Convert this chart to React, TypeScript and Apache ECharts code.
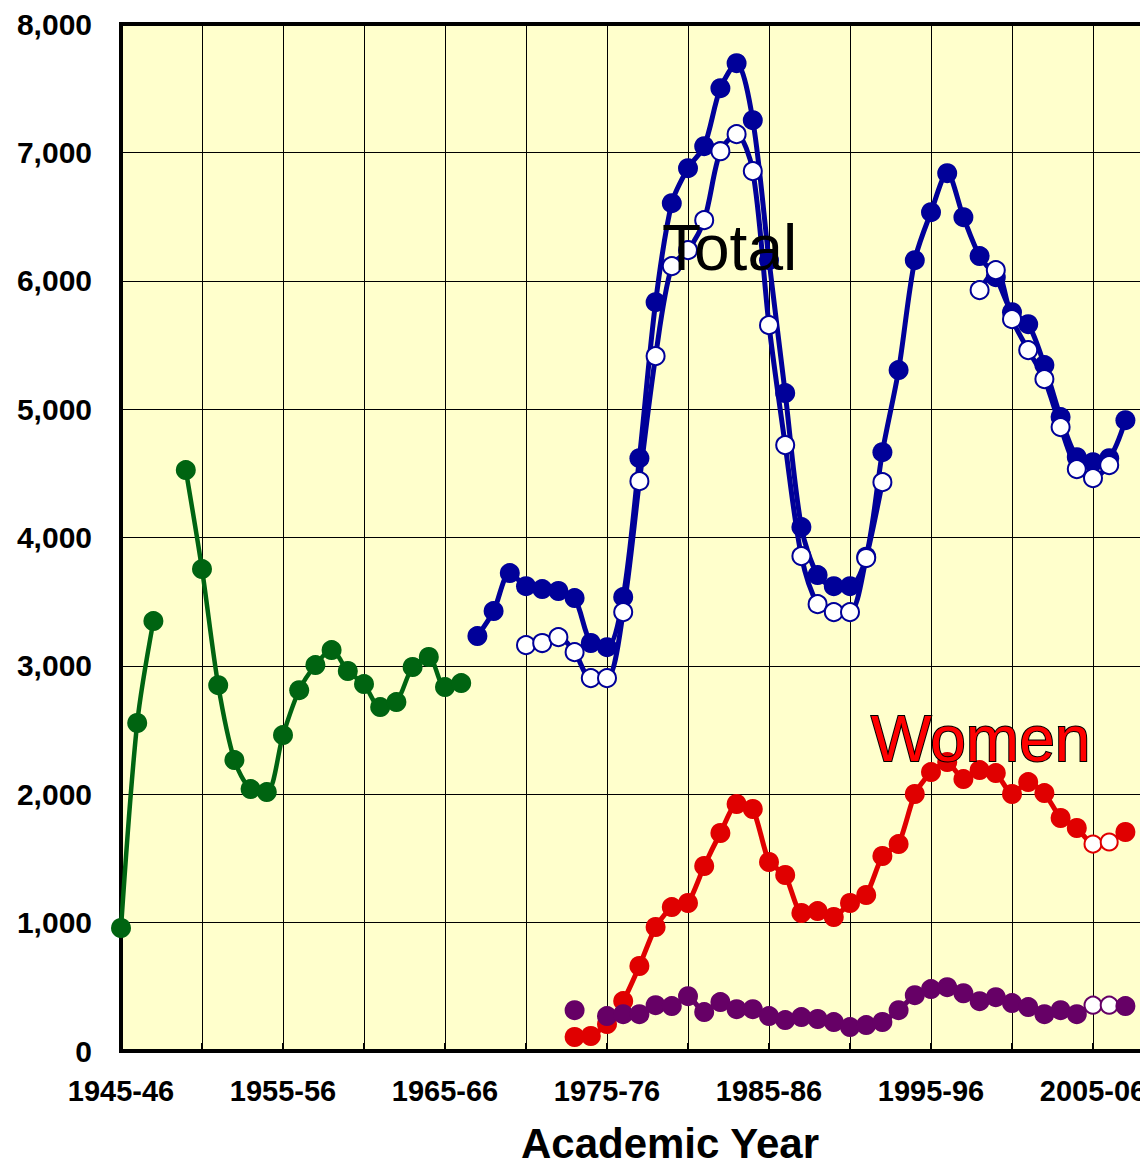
import React, { useEffect, useRef } from "react";
import * as echarts from "echarts";

// x index 0 = 1945-46, 1 = 1946-47, ...
const xTickLabels = ["1945-46", "1955-56", "1965-66", "1975-76", "1985-86", "1995-96", "2005-06"];

const greenStart = 0;
const greenValues = [958, 2555, 3349, null, 4525, 3754, 2850, 2266, 2040, 2017, 2461, 2811, 3006, 3123, 2960, 2858, 2679, 2718, 2991, 3069, 2835, 2866];

const totalStart = 22;
const totalValues = [
  3232, 3427, 3723, 3621, 3598, 3583, 3528, 3178, 3146, 3536,
  4618, 5833, 6604, 6877, 7048, 7500, 7695, 7251, 6160, 5125,
  4081, 3707, 3621, 3621, 3850, 4665, 5304, 6160, 6534, 6838,
  6495, 6192, 6028, 5755, 5662, 5343, 4938, 4626, 4587, 4618, 4914,
];

const totalAltStart = 25;
const totalAltValues = [
  3162, 3178, 3224, 3107, 2905, 2905, 3419, 4439, 5413, 6114,
  6238, 6472, 7009, 7142, 6854, 5654, 4720, 3855, 3481, 3419,
  3419, 3840, 4431, null, null, null, null, null, 5927, 6083,
  5701, 5460, 5234, 4860, 4533, 4463, 4564,
];

const womenStart = 28;
const womenValues = [
  109, 117, 210, 389, 662, 966, 1121, 1153, 1441, 1698,
  1924, 1885, 1472, 1371, 1075, 1090, 1044, 1153, 1215, 1519,
  1612, 2002, 2173, 2251, 2118, 2188, 2165, 2002, 2095, 2009,
  1815, 1737, 1612, 1628, 1706,
];

const otherStart = 28;
const otherValues = [
  318, null, 272, 287, 287, 357, 350, 427, 303, 381,
  326, 326, 272, 241, 264, 249, 225, 186, 202, 226,
  318, 435, 482, 497, 450, 388, 419, 373, 342, 287,
  318, 287, 357, 357, 350,
];

// indices (years) shown with open markers in the women / other series
const openYearIndices = [60, 61];

const BLUE = "#000099";
const GREEN = "#006411";
const RED = "#E00000";
const PURPLE = "#660066";
const FONT = "'Liberation Sans', Arial, sans-serif";

function toData(start: number, values: (number | null)[], openColor?: string) {
  return values.map((v, i) => {
    const x = start + i;
    const item: any = { value: [x, v === null ? "-" : v] };
    if (openColor && openYearIndices.includes(x)) {
      item.itemStyle = { color: "#ffffff", borderColor: openColor, borderWidth: 2 };
      item.symbolSize = 17;
    }
    return item;
  });
}

export default function App() {
  const ref = useRef<HTMLDivElement>(null);
  useEffect(() => {
    if (!ref.current) return;
    const chart = echarts.init(ref.current, undefined, { renderer: "svg" });
    const lineSeries = (name: string, data: any[], color: string, opts: any = {}) => ({
      name,
      type: "line",
      data,
      smooth: 0.3,
      showAllSymbol: true,
      symbol: "circle",
      symbolSize: 20,
      lineStyle: { color, width: 5 },
      itemStyle: { color },
      connectNulls: false,
      ...opts,
    });
    chart.setOption({
      animation: false,
      grid: {
        left: 121,
        top: 24,
        width: 16.2 * 65,
        height: 1027,
        show: true,
        backgroundColor: "#FFFFCC",
        borderColor: "#000",
        borderWidth: 4,
        containLabel: false,
      },
      xAxis: {
        type: "value",
        min: 0,
        max: 65,
        interval: 5,
        axisLine: { show: false },
        axisTick: { show: true, inside: true, length: 8, lineStyle: { color: "#000", width: 2 } },
        splitLine: { show: true, lineStyle: { color: "#000", width: 1 } },
        axisLabel: {
          margin: 25,
          fontSize: 29,
          fontWeight: "bold",
          color: "#000",
          fontFamily: FONT,
          showMaxLabel: false,
          formatter: (v: number) => (v % 10 === 0 && xTickLabels[v / 10] ? xTickLabels[v / 10] : ""),
        },
      },
      yAxis: {
        type: "value",
        min: 0,
        max: 8000,
        interval: 1000,
        axisLine: { show: false },
        axisTick: { show: false },
        splitLine: { show: true, lineStyle: { color: "#000", width: 1 } },
        axisLabel: {
          margin: 29,
          fontSize: 30,
          fontWeight: "bold",
          color: "#000",
          fontFamily: FONT,
          formatter: (v: number) => v.toLocaleString("en-US"),
        },
      },
      series: [
        lineSeries("Early", toData(greenStart, greenValues), GREEN, { lineStyle: { color: GREEN, width: 4.5 } }),
        lineSeries("Total", toData(totalStart, totalValues), BLUE),
        lineSeries("Total (alt)", toData(totalAltStart, totalAltValues), BLUE, {
          symbolSize: 18,
          itemStyle: { color: "#ffffff", borderColor: BLUE, borderWidth: 2 },
        }),
        lineSeries("Women", toData(womenStart, womenValues, RED), RED, { smooth: 0.2 }),
        lineSeries("Other", toData(otherStart, otherValues, PURPLE), PURPLE, { smooth: 0.2 }),
      ],
      graphic: [
        {
          type: "text",
          left: 662,
          top: 216,
          z: 100,
          style: { text: "Total", fill: "#000", font: `64px ${FONT}` },
        },
        {
          type: "text",
          left: 870,
          top: 706,
          z: 100,
          style: { text: "Women", fill: "#FF0000", stroke: "#000", lineWidth: 2, font: `64px ${FONT}` },
        },
        {
          type: "text",
          x: 670,
          y: 1143,
          z: 100,
          style: {
            text: "Academic Year",
            fill: "#000",
            font: `bold 42px ${FONT}`,
            align: "center",
            verticalAlign: "middle",
          },
        },
      ],
    });
    return () => chart.dispose();
  }, []);
  return (
    <div style={{ position: "absolute", left: 0, top: 0, width: 1140, height: 1167, overflow: "hidden", background: "#fff" }}>
      <div ref={ref} style={{ width: 1220, height: 1167 }} />
    </div>
  );
}
